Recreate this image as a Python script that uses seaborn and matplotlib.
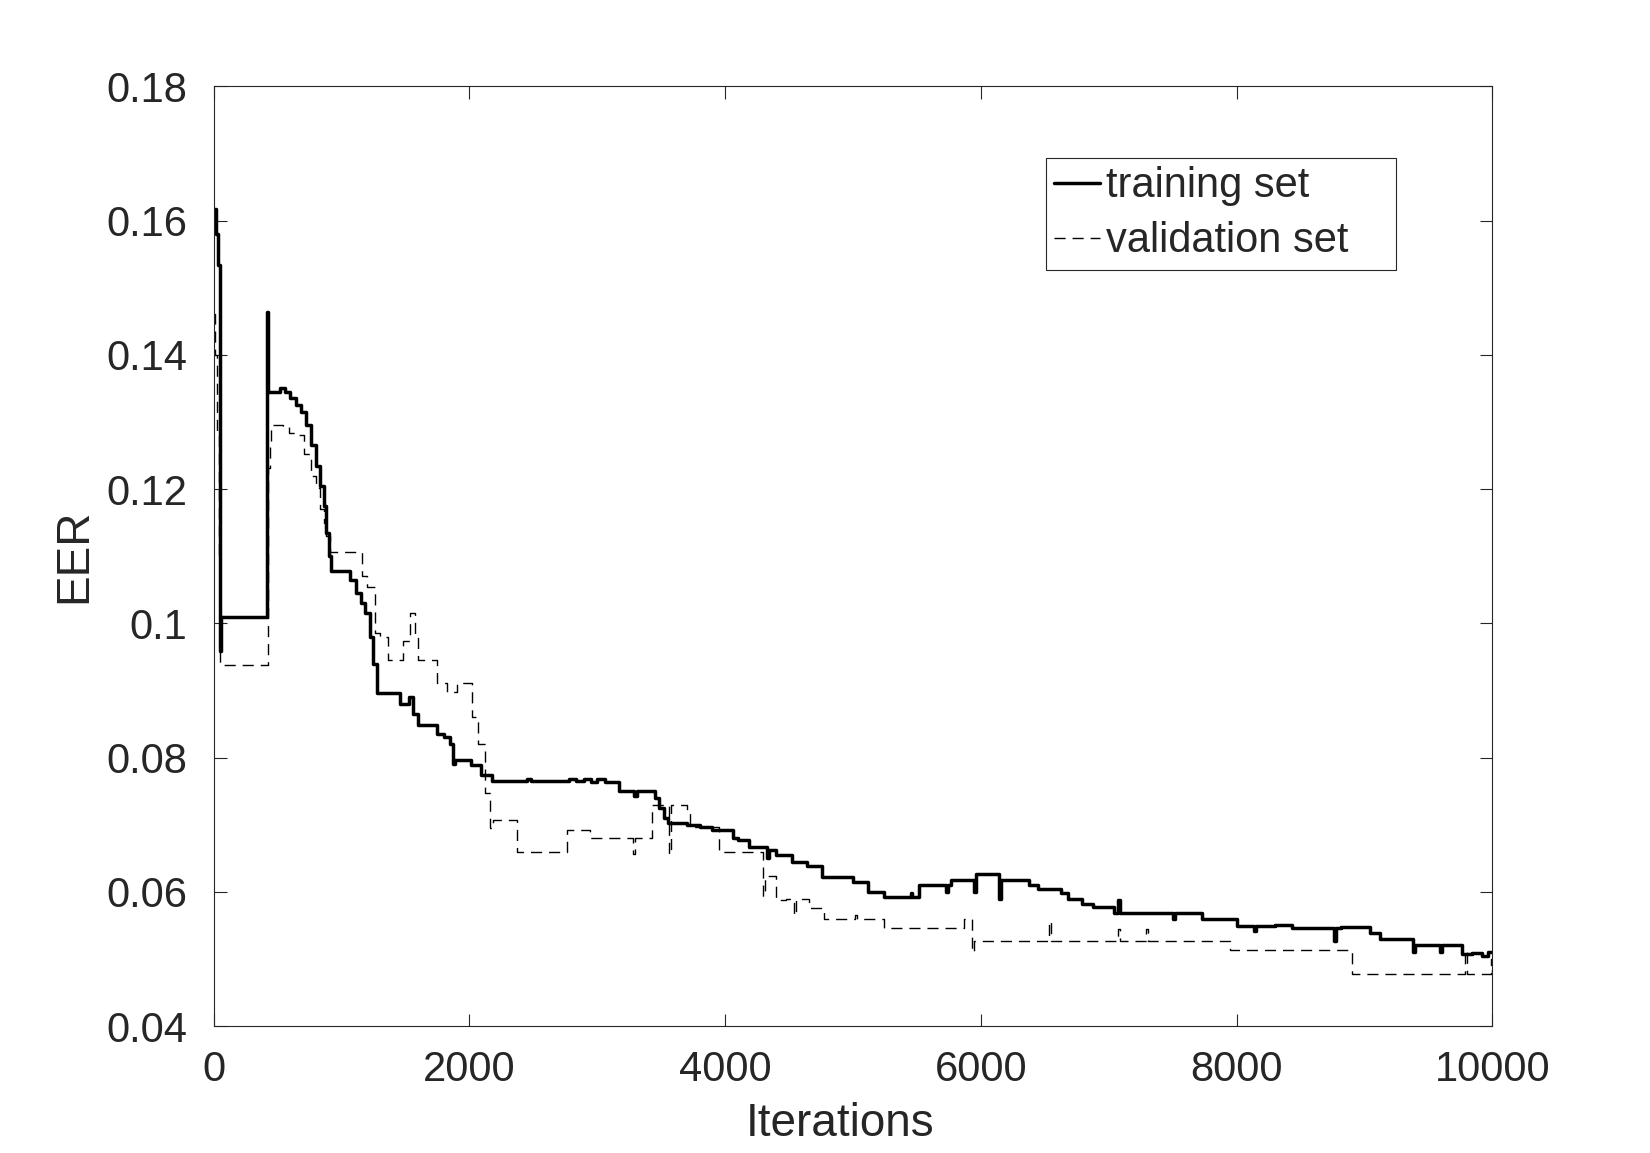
import matplotlib
matplotlib.use("Agg")
import matplotlib.pyplot as plt
import pandas as pd
import seaborn as sns

# EER per iteration (step curves)
train_iter = [0, 20, 35, 50, 60, 415, 425, 520, 560, 600, 640, 680, 720, 760, 800,
              830, 860, 880, 900, 915, 1070, 1110, 1150, 1180, 1225, 1250, 1277, 1460,
              1530, 1560, 1600, 1750, 1800, 1850, 1870, 1890, 2010, 2090, 2180, 2450,
              2480, 2780, 2830, 2900, 2950, 3000, 3060, 3170, 3290, 3310, 3450, 3480,
              3520, 3550, 3700, 3800, 3900, 4060, 4100, 4190, 4330, 4345, 4400, 4520,
              4640, 4760, 5000, 5120, 5240, 5450, 5465, 5520, 5730, 5745, 5770, 5950,
              5965, 6140, 6155, 6380, 6450, 6630, 6680, 6790, 6880, 7040, 7070, 7085,
              7500, 7515, 7730, 8000, 8140, 8155, 8300, 8430, 8760, 8775, 8820, 9040,
              9125, 9380, 9395, 9420, 9590, 9605, 9760, 9840, 9920, 9970, 10000]
train_eer = [0.1617, 0.1580, 0.1534, 0.0958, 0.1009, 0.1463, 0.1345, 0.1350, 0.1345,
             0.1335, 0.1325, 0.1315, 0.1295, 0.1265, 0.1235, 0.1205, 0.1175, 0.1135,
             0.1100, 0.1078, 0.1065, 0.1045, 0.1030, 0.1015, 0.0980, 0.0940, 0.0896,
             0.0880, 0.0890, 0.0865, 0.0848, 0.0835, 0.0830, 0.0820, 0.0790, 0.0796,
             0.0789, 0.0774, 0.0765, 0.0768, 0.0765, 0.0768, 0.0765, 0.0768, 0.0764,
             0.0768, 0.0764, 0.0750, 0.0742, 0.0750, 0.0740, 0.0725, 0.0710, 0.0703,
             0.0700, 0.0697, 0.0692, 0.0680, 0.0677, 0.0667, 0.0650, 0.0662, 0.0655,
             0.0645, 0.0638, 0.0622, 0.0614, 0.0600, 0.0592, 0.0598, 0.0592, 0.0610,
             0.0600, 0.0610, 0.0617, 0.0600, 0.0626, 0.0590, 0.0618, 0.0610, 0.0604,
             0.0598, 0.0590, 0.0582, 0.0578, 0.0568, 0.0588, 0.0568, 0.0560, 0.0568,
             0.0560, 0.0549, 0.0542, 0.0549, 0.0551, 0.0546, 0.0526, 0.0546, 0.0548,
             0.0539, 0.0529, 0.0510, 0.0520, 0.0520, 0.0510, 0.0520, 0.0507, 0.0509,
             0.0505, 0.0510, 0.0510]

val_iter = [0, 10, 25, 40, 50, 425, 440, 450, 540, 590, 660, 710, 760, 800, 830, 860,
            880, 910, 1160, 1197, 1262, 1301, 1367, 1484, 1536, 1575, 1601, 1745, 1823,
            1901, 2018, 2070, 2122, 2160, 2188, 2370, 2762, 2944, 3283, 3298, 3426,
            3560, 3575, 3700, 3728, 3952, 3998, 4296, 4311, 4326, 4401, 4476, 4536,
            4551, 4596, 4656, 4776, 5015, 5030, 5105, 5240, 5870, 5928, 5950, 6530,
            6545, 7070, 7085, 7290, 7305, 7950, 8900, 9790, 9805, 9990, 10000]
val_eer = [0.1460, 0.1400, 0.1283, 0.1100, 0.0938, 0.1232, 0.1270, 0.1295, 0.1292,
           0.1284, 0.1280, 0.1252, 0.1220, 0.1202, 0.1170, 0.1150, 0.1130, 0.1106,
           0.1070, 0.1054, 0.0985, 0.0980, 0.0945, 0.0973, 0.1015, 0.0980, 0.0945,
           0.0911, 0.0897, 0.0911, 0.0861, 0.0820, 0.0747, 0.0695, 0.0707, 0.0660,
           0.0692, 0.0680, 0.0657, 0.0680, 0.0729, 0.0657, 0.0729, 0.0722, 0.0697,
           0.0659, 0.0659, 0.0593, 0.0624, 0.0624, 0.0588, 0.0590, 0.0566, 0.0590,
           0.0590, 0.0576, 0.0560, 0.0565, 0.0560, 0.0560, 0.0546, 0.0560, 0.0511,
           0.0527, 0.0557, 0.0527, 0.0545, 0.0527, 0.0545, 0.0527, 0.0513, 0.0478,
           0.0513, 0.0478, 0.0500, 0.0478]

y_ticks = [0.04, 0.06, 0.08, 0.1, 0.12, 0.14, 0.16, 0.18]
y_tick_labels = ["0.04", "0.06", "0.08", "0.1", "0.12", "0.14", "0.16", "0.18"]
x_ticks = [0, 2000, 4000, 6000, 8000, 10000]

train_df = pd.DataFrame({"Iterations": train_iter, "EER": train_eer})
val_df = pd.DataFrame({"Iterations": val_iter, "EER": val_eer})

sns.set_theme(style="white")
plt.rcParams["font.family"] = ["Liberation Sans", "DejaVu Sans"]

fig = plt.figure(figsize=(16.5, 11.53), dpi=100)
ax = fig.add_axes([0.1295, 0.1101, 0.7749, 0.8151])

sns.lineplot(data=train_df, x="Iterations", y="EER", ax=ax, color="black",
             linewidth=2.5, drawstyle="steps-post", estimator=None, sort=False,
             label="training set")
sns.lineplot(data=val_df, x="Iterations", y="EER", ax=ax, color="black",
             linewidth=1.0, drawstyle="steps-post", estimator=None, sort=False,
             label="validation set")
ax.lines[-1].set_dashes((8, 5))

ax.set_xlim(0, 10000)
ax.set_ylim(0.04, 0.18)
ax.set_xticks(x_ticks)
ax.set_xticklabels([str(t) for t in x_ticks])
ax.set_yticks(y_ticks)
ax.set_yticklabels(y_tick_labels)

for side in ["top", "right", "bottom", "left"]:
    ax.spines[side].set_visible(True)
    ax.spines[side].set_color("#262626")
    ax.spines[side].set_linewidth(0.8)

ax.tick_params(direction="in", length=9, width=0.8, colors="#262626",
               labelsize=30, top=True, right=True, bottom=True, left=True)
ax.tick_params(axis="x", pad=17)
ax.tick_params(axis="y", pad=19)
ax.set_xlabel("Iterations", fontsize=33, color="#262626")
ax.set_ylabel("EER", fontsize=33, color="#262626")
ax.xaxis.set_label_coords(0.49, -0.081)
ax.yaxis.set_label_coords(-0.092, 0.5)

leg = ax.legend(loc="upper left", bbox_to_anchor=(0.651, 0.5, 0.274, 0.4237),
                mode="expand", fontsize=30, frameon=True, fancybox=False,
                framealpha=1, edgecolor="#262626", handlelength=1.1,
                handletextpad=0.15, borderpad=0.2, labelspacing=0.36,
                borderaxespad=0)
leg.get_frame().set_linewidth(0.8)

fig.savefig("out.png", dpi=100)
